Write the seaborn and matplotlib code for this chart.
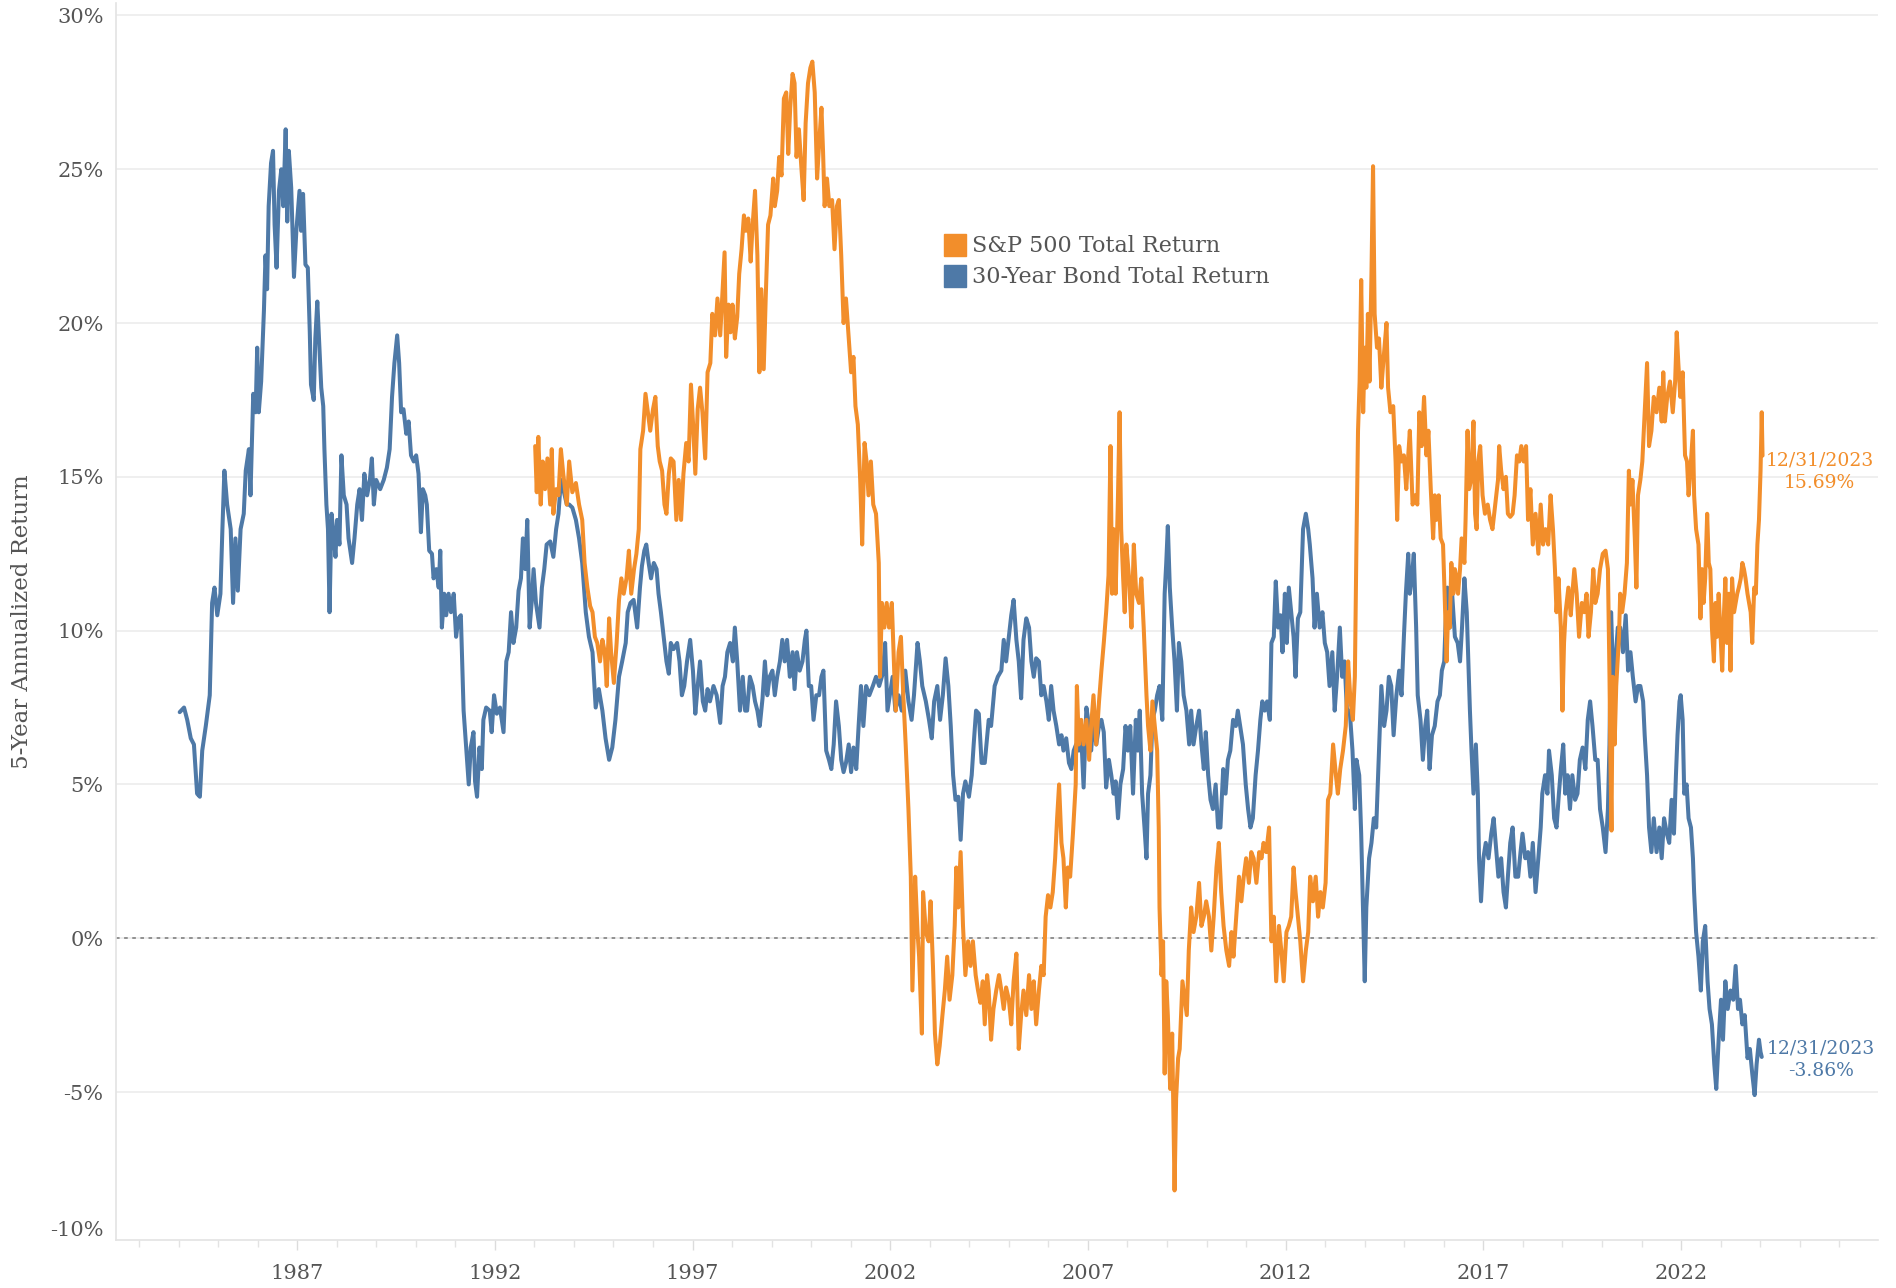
import numpy as np
import pandas as pd
import matplotlib
matplotlib.use("Agg")
import matplotlib.pyplot as plt
import seaborn as sns
from matplotlib.lines import Line2D
from matplotlib.transforms import blended_transform_factory

# 5-year annualized total return (%), x in decimal years
bond_year = [
    1984.03, 1984.14, 1984.22, 1984.31, 1984.39, 1984.47, 1984.54, 1984.60, 1984.69, 1984.79,
    1984.85, 1984.91, 1984.98, 1985.06, 1985.11, 1985.16, 1985.23, 1985.32, 1985.38, 1985.44,
    1985.50, 1985.57, 1985.65, 1985.70, 1985.78, 1985.82, 1985.89, 1985.95, 1985.99, 1986.03,
    1986.09, 1986.16, 1986.20, 1986.24, 1986.28, 1986.34, 1986.39, 1986.43, 1986.48, 1986.54,
    1986.60, 1986.65, 1986.71, 1986.75, 1986.79, 1986.85, 1986.92, 1986.98, 1987.06, 1987.10,
    1987.15, 1987.21, 1987.27, 1987.32, 1987.35, 1987.42, 1987.46, 1987.51, 1987.55, 1987.61,
    1987.66, 1987.69, 1987.74, 1987.78, 1987.82, 1987.87, 1987.93, 1987.97, 1988.01, 1988.07,
    1988.12, 1988.18, 1988.25, 1988.30, 1988.39, 1988.45, 1988.52, 1988.58, 1988.64, 1988.70,
    1988.77, 1988.84, 1988.89, 1988.94, 1989.00, 1989.10, 1989.19, 1989.27, 1989.34, 1989.40,
    1989.46, 1989.53, 1989.58, 1989.63, 1989.69, 1989.76, 1989.82, 1989.88, 1989.95, 1990.01,
    1990.07, 1990.13, 1990.18, 1990.24, 1990.28, 1990.34, 1990.41, 1990.45, 1990.52, 1990.58,
    1990.62, 1990.66, 1990.72, 1990.77, 1990.83, 1990.89, 1990.96, 1991.02, 1991.08, 1991.14,
    1991.21, 1991.28, 1991.34, 1991.39, 1991.46, 1991.50, 1991.55, 1991.61, 1991.67, 1991.71,
    1991.78, 1991.87, 1991.92, 1991.98, 1992.05, 1992.13, 1992.22, 1992.29, 1992.35, 1992.41,
    1992.47, 1992.54, 1992.60, 1992.66, 1992.71, 1992.77, 1992.82, 1992.88, 1992.93, 1992.98,
    1993.04, 1993.13, 1993.19, 1993.25, 1993.31, 1993.40, 1993.48, 1993.55, 1993.61, 1993.67,
    1993.73, 1993.82, 1993.88, 1993.96, 1994.05, 1994.13, 1994.21, 1994.30, 1994.38, 1994.47,
    1994.55, 1994.63, 1994.72, 1994.80, 1994.89, 1994.97, 1995.05, 1995.14, 1995.22, 1995.31,
    1995.36, 1995.43, 1995.51, 1995.60, 1995.67, 1995.72, 1995.78, 1995.83, 1995.89, 1995.95,
    1996.02, 1996.09, 1996.14, 1996.20, 1996.27, 1996.34, 1996.40, 1996.45, 1996.52, 1996.61,
    1996.67, 1996.73, 1996.79, 1996.86, 1996.94, 1997.01, 1997.07, 1997.13, 1997.19, 1997.26,
    1997.32, 1997.38, 1997.44, 1997.53, 1997.61, 1997.70, 1997.76, 1997.82, 1997.88, 1997.95,
    1998.02, 1998.07, 1998.13, 1998.20, 1998.27, 1998.33, 1998.38, 1998.45, 1998.52, 1998.58,
    1998.64, 1998.70, 1998.77, 1998.83, 1998.89, 1998.95, 1999.02, 1999.08, 1999.14, 1999.21,
    1999.27, 1999.33, 1999.39, 1999.46, 1999.53, 1999.58, 1999.64, 1999.71, 1999.78, 1999.84,
    1999.88, 1999.94, 2000.00, 2000.06, 2000.13, 2000.20, 2000.26, 2000.31, 2000.38, 2000.45,
    2000.51, 2000.57, 2000.63, 2000.70, 2000.76, 2000.82, 2000.88, 2000.95, 2001.01, 2001.07,
    2001.14, 2001.20, 2001.26, 2001.32, 2001.39, 2001.47, 2001.56, 2001.64, 2001.72, 2001.81,
    2001.87, 2001.93, 2001.99, 2002.06, 2002.13, 2002.21, 2002.29, 2002.38, 2002.46, 2002.54,
    2002.60, 2002.69, 2002.75, 2002.81, 2002.90, 2002.98, 2003.05, 2003.11, 2003.19, 2003.26,
    2003.33, 2003.40, 2003.47, 2003.53, 2003.59, 2003.65, 2003.72, 2003.78, 2003.84, 2003.90,
    2003.99, 2004.06, 2004.11, 2004.17, 2004.24, 2004.31, 2004.39, 2004.49, 2004.55, 2004.64,
    2004.72, 2004.81, 2004.87, 2004.93, 2005.00, 2005.06, 2005.12, 2005.19, 2005.25, 2005.31,
    2005.37, 2005.44, 2005.51, 2005.57, 2005.63, 2005.69, 2005.76, 2005.82, 2005.88, 2005.95,
    2006.01, 2006.07, 2006.13, 2006.20, 2006.27, 2006.33, 2006.38, 2006.45, 2006.52, 2006.58,
    2006.64, 2006.70, 2006.77, 2006.83, 2006.89, 2006.96, 2007.03, 2007.08, 2007.14, 2007.21,
    2007.28, 2007.34, 2007.40, 2007.46, 2007.53, 2007.59, 2007.65, 2007.70, 2007.76, 2007.82,
    2007.89, 2007.95, 2008.01, 2008.07, 2008.14, 2008.21, 2008.26, 2008.31, 2008.37, 2008.43,
    2008.48, 2008.52, 2008.58, 2008.63, 2008.69, 2008.75, 2008.81, 2008.88, 2008.94, 2008.98,
    2009.02, 2009.07, 2009.13, 2009.19, 2009.25, 2009.30, 2009.36, 2009.42, 2009.49, 2009.56,
    2009.61, 2009.67, 2009.74, 2009.81, 2009.87, 2009.93, 2009.98, 2010.04, 2010.10, 2010.16,
    2010.23, 2010.29, 2010.35, 2010.42, 2010.48, 2010.54, 2010.60, 2010.67, 2010.74, 2010.79,
    2010.85, 2010.92, 2010.99, 2011.05, 2011.11, 2011.17, 2011.24, 2011.30, 2011.36, 2011.41,
    2011.47, 2011.53, 2011.60, 2011.64, 2011.70, 2011.75, 2011.81, 2011.87, 2011.92, 2011.98,
    2012.03, 2012.08, 2012.14, 2012.20, 2012.25, 2012.31, 2012.37, 2012.44, 2012.51, 2012.57,
    2012.61, 2012.68, 2012.73, 2012.79, 2012.86, 2012.93, 2012.99, 2013.05, 2013.11, 2013.18,
    2013.24, 2013.30, 2013.37, 2013.43, 2013.49, 2013.55, 2013.62, 2013.69, 2013.75, 2013.79,
    2013.86, 2013.91, 2013.96, 2014.00, 2014.04, 2014.11, 2014.17, 2014.23, 2014.29, 2014.36,
    2014.42, 2014.49, 2014.55, 2014.61, 2014.67, 2014.73, 2014.80, 2014.87, 2014.93, 2014.99,
    2015.04, 2015.10, 2015.14, 2015.19, 2015.24, 2015.30, 2015.34, 2015.41, 2015.47, 2015.53,
    2015.58, 2015.64, 2015.70, 2015.77, 2015.84, 2015.90, 2015.95, 2016.01, 2016.04, 2016.09,
    2016.15, 2016.21, 2016.28, 2016.35, 2016.41, 2016.46, 2016.52, 2016.58, 2016.62, 2016.66,
    2016.70, 2016.75, 2016.81, 2016.86, 2016.89, 2016.94, 2017.00, 2017.06, 2017.13, 2017.20,
    2017.26, 2017.31, 2017.38, 2017.45, 2017.51, 2017.57, 2017.62, 2017.68, 2017.74, 2017.81,
    2017.88, 2017.94, 2017.99, 2018.06, 2018.13, 2018.19, 2018.25, 2018.32, 2018.39, 2018.45,
    2018.49, 2018.56, 2018.62, 2018.66, 2018.73, 2018.79, 2018.85, 2018.91, 2018.96, 2019.02,
    2019.07, 2019.13, 2019.19, 2019.25, 2019.32, 2019.38, 2019.44, 2019.51, 2019.58, 2019.64,
    2019.70, 2019.76, 2019.83, 2019.89, 2019.95, 2020.02, 2020.09, 2020.15, 2020.19, 2020.23,
    2020.29, 2020.34, 2020.40, 2020.46, 2020.53, 2020.60, 2020.66, 2020.72, 2020.78, 2020.85,
    2020.91, 2020.97, 2021.04, 2021.08, 2021.14, 2021.19, 2021.25, 2021.31, 2021.38, 2021.45,
    2021.51, 2021.57, 2021.64, 2021.70, 2021.76, 2021.82, 2021.87, 2021.91, 2021.96, 2021.99,
    2022.04, 2022.08, 2022.14, 2022.19, 2022.25, 2022.30, 2022.33, 2022.38, 2022.44, 2022.50,
    2022.55, 2022.61, 2022.67, 2022.72, 2022.78, 2022.84, 2022.89, 2022.95, 2023.01, 2023.06,
    2023.12, 2023.18, 2023.25, 2023.32, 2023.38, 2023.44, 2023.49, 2023.55, 2023.61, 2023.68,
    2023.74, 2023.80, 2023.86, 2023.91, 2023.97, 2024.01, 2024.04,
]
bond_ret = [
    7.35, 7.5, 7.1, 6.5, 6.3, 4.7, 4.6, 6.1, 6.9, 7.9,
    10.9, 11.4, 10.5, 11.2, 13.3, 15.2, 14.1, 13.3, 10.9, 13.0,
    11.3, 13.3, 13.8, 15.2, 15.9, 14.4, 17.7, 17.1, 19.2, 17.1,
    18.1, 20.4, 22.2, 21.1, 23.8, 25.2, 25.6, 23.2, 21.8, 24.3,
    25.0, 23.8, 26.3, 23.3, 25.6, 24.4, 21.5, 23.0, 24.3, 23.0,
    24.2, 21.9, 21.8, 19.7, 18.0, 17.5, 19.5, 20.7, 19.6, 17.9,
    17.3, 15.9, 14.1, 13.3, 10.6, 13.8, 13.0, 12.4, 13.6, 12.8,
    15.7, 14.4, 14.1, 13.0, 12.2, 13.0, 14.1, 14.6, 13.6, 15.1,
    14.4, 14.9, 15.6, 14.1, 14.9, 14.6, 14.9, 15.3, 15.9, 17.6,
    18.7, 19.6, 18.7, 17.1, 17.2, 16.4, 16.8, 15.7, 15.5, 15.7,
    15.1, 13.2, 14.6, 14.4, 14.1, 12.6, 12.5, 11.7, 12.0, 11.4,
    12.6, 10.1, 11.2, 10.5, 11.2, 10.6, 11.2, 9.8, 10.4, 10.5,
    7.4, 6.1, 5.0, 6.2, 6.7, 5.1, 4.6, 6.2, 5.5, 7.1,
    7.5, 7.4, 6.7, 7.9, 7.3, 7.5, 6.7, 9.0, 9.3, 10.6,
    9.6, 10.1, 11.3, 11.7, 13.0, 12.0, 13.6, 10.1, 10.9, 12.0,
    10.9, 10.1, 11.4, 12.0, 12.8, 12.9, 12.4, 13.3, 13.8, 14.9,
    14.6, 14.1, 14.1, 14.0, 13.6, 13.0, 12.2, 10.6, 9.8, 9.3,
    7.5, 8.1, 7.4, 6.5, 5.8, 6.2, 7.1, 8.5, 9.0, 9.6,
    10.6, 10.9, 11.0, 10.1, 11.4, 12.1, 12.6, 12.8, 12.2, 11.7,
    12.2, 12.0, 11.2, 10.6, 9.8, 9.0, 8.6, 9.6, 9.4, 9.6,
    9.0, 7.9, 8.2, 9.0, 9.7, 8.7, 7.3, 8.2, 9.0, 7.7,
    7.4, 8.1, 7.7, 8.2, 7.9, 7.0, 8.2, 8.5, 9.3, 9.6,
    9.0, 10.1, 9.0, 7.4, 8.5, 7.4, 7.4, 8.5, 8.2, 7.7,
    7.4, 6.9, 7.8, 9.0, 7.9, 8.5, 8.7, 7.9, 8.5, 9.0,
    9.7, 9.0, 9.7, 8.5, 9.3, 8.1, 9.3, 8.7, 9.0, 9.7,
    10.0, 8.2, 8.2, 7.1, 7.9, 7.9, 8.5, 8.7, 6.1, 5.8,
    5.5, 6.3, 7.7, 6.9, 5.8, 5.4, 5.7, 6.3, 5.4, 6.2,
    5.5, 6.9, 8.2, 6.9, 8.2, 7.9, 8.2, 8.5, 8.2, 8.6,
    9.6, 7.4, 7.9, 8.5, 7.4, 7.9, 7.4, 8.7, 7.7, 7.1,
    7.9, 9.6, 9.0, 8.2, 7.7, 7.1, 6.5, 7.7, 8.2, 7.1,
    7.9, 9.1, 8.2, 6.9, 5.3, 4.5, 4.6, 3.2, 4.7, 5.1,
    4.6, 5.3, 6.3, 7.4, 7.3, 5.7, 5.7, 7.1, 6.9, 8.2,
    8.5, 8.7, 9.7, 9.0, 9.8, 10.5, 11.0, 9.7, 9.0, 7.8,
    9.7, 10.4, 10.1, 9.0, 8.5, 9.1, 9.0, 7.9, 8.2, 7.7,
    7.1, 8.2, 7.4, 6.9, 6.3, 6.6, 6.1, 6.5, 5.7, 5.5,
    6.1, 6.3, 6.1, 6.6, 4.9, 7.5, 6.9, 6.1, 7.1, 6.3,
    6.9, 7.1, 6.7, 4.9, 5.8, 5.3, 4.7, 5.1, 3.9, 5.0,
    5.5, 6.9, 6.1, 6.9, 4.7, 7.1, 6.1, 7.4, 4.7, 3.6,
    2.6, 4.7, 5.3, 7.1, 7.4, 7.9, 8.2, 7.1, 11.2, 12.2,
    13.4, 11.4, 10.1, 9.0, 7.4, 9.6, 9.0, 7.9, 7.4, 6.3,
    7.4, 6.3, 6.9, 7.4, 6.3, 5.5, 6.7, 5.3, 4.5, 4.2,
    5.0, 3.6, 3.6, 5.5, 4.7, 5.8, 6.1, 7.1, 6.9, 7.4,
    6.9, 6.3, 5.0, 4.2, 3.6, 3.9, 5.3, 6.1, 7.1, 7.7,
    7.4, 7.7, 7.1, 9.6, 9.8, 11.6, 10.1, 10.5, 9.3, 11.2,
    9.6, 11.4, 10.6, 9.8, 8.5, 10.4, 10.6, 13.3, 13.8, 13.3,
    12.8, 11.7, 10.1, 11.2, 10.1, 10.6, 9.6, 9.3, 8.2, 9.3,
    7.4, 8.5, 10.1, 8.5, 9.0, 7.4, 7.4, 6.1, 4.2, 5.8,
    5.3, 3.4, 0.7, -1.4, 1.0, 2.6, 3.1, 3.9, 3.6, 6.1,
    8.2, 6.9, 7.4, 8.5, 8.2, 6.6, 7.9, 8.7, 7.9, 9.8,
    11.2, 12.5, 11.2, 11.7, 12.5, 10.1, 7.9, 7.1, 5.8, 6.9,
    7.4, 5.5, 6.6, 6.9, 7.7, 7.9, 8.7, 9.0, 10.1, 11.4,
    10.1, 11.2, 9.8, 9.6, 9.0, 10.1, 11.7, 10.6, 9.0, 7.4,
    6.1, 4.7, 6.3, 4.7, 2.6, 1.2, 2.6, 3.1, 2.6, 3.4,
    3.9, 3.1, 2.0, 2.6, 1.5, 1.0, 2.0, 3.1, 3.6, 2.0,
    2.0, 2.8, 3.4, 2.6, 2.8, 2.0, 3.1, 1.5, 2.6, 3.6,
    4.7, 5.3, 4.7, 6.1, 5.3, 3.9, 3.6, 4.7, 5.5, 6.3,
    4.7, 5.3, 4.2, 5.3, 4.5, 4.7, 5.8, 6.2, 5.5, 7.1,
    7.7, 6.9, 5.8, 5.8, 4.2, 3.6, 2.8, 4.2, 6.3, 10.6,
    8.2, 9.0, 10.1, 10.1, 9.3, 10.5, 8.7, 9.3, 8.5, 7.7,
    8.2, 8.2, 7.7, 6.6, 5.3, 3.6, 2.8, 3.9, 2.8, 3.6,
    2.6, 3.9, 3.4, 3.1, 4.5, 3.4, 5.3, 6.6, 7.7, 7.9,
    7.1, 4.7, 5.0, 3.9, 3.6, 2.6, 1.5, 0.2, -0.6, -1.7,
    -0.1, 0.4, -1.4, -2.3, -2.8, -4.1, -4.9, -3.3, -2.0, -3.3,
    -1.4, -2.3, -1.7, -2.0, -0.9, -2.3, -2.0, -2.8, -2.5, -3.9,
    -3.6, -4.4, -5.1, -4.1, -3.3, -3.7, -3.86,
]

spx_year = [
    1993.02, 1993.06, 1993.10, 1993.16, 1993.21, 1993.27, 1993.33, 1993.40, 1993.44, 1993.48,
    1993.55, 1993.61, 1993.67, 1993.73, 1993.82, 1993.88, 1993.96, 1994.05, 1994.13, 1994.21,
    1994.27, 1994.34, 1994.41, 1994.47, 1994.53, 1994.59, 1994.66, 1994.72, 1994.78, 1994.83,
    1994.89, 1994.94, 1995.01, 1995.08, 1995.14, 1995.20, 1995.26, 1995.33, 1995.39, 1995.45,
    1995.52, 1995.58, 1995.64, 1995.68, 1995.75, 1995.81, 1995.87, 1995.93, 1996.00, 1996.06,
    1996.12, 1996.17, 1996.23, 1996.29, 1996.34, 1996.40, 1996.45, 1996.52, 1996.59, 1996.65,
    1996.71, 1996.77, 1996.84, 1996.90, 1996.96, 1997.01, 1997.07, 1997.13, 1997.19, 1997.25,
    1997.32, 1997.38, 1997.45, 1997.50, 1997.57, 1997.63, 1997.70, 1997.76, 1997.81, 1997.85,
    1997.91, 1997.96, 1998.01, 1998.07, 1998.13, 1998.18, 1998.24, 1998.30, 1998.35, 1998.41,
    1998.47, 1998.52, 1998.58, 1998.64, 1998.69, 1998.74, 1998.80, 1998.85, 1998.91, 1998.97,
    1999.04, 1999.08, 1999.14, 1999.19, 1999.25, 1999.31, 1999.37, 1999.42, 1999.47, 1999.53,
    1999.58, 1999.63, 1999.69, 1999.75, 1999.81, 1999.86, 1999.92, 1999.98, 2000.03, 2000.09,
    2000.15, 2000.20, 2000.26, 2000.30, 2000.34, 2000.40, 2000.46, 2000.53, 2000.59, 2000.65,
    2000.70, 2000.76, 2000.82, 2000.88, 2000.95, 2001.01, 2001.07, 2001.12, 2001.18, 2001.24,
    2001.29, 2001.35, 2001.40, 2001.45, 2001.51, 2001.57, 2001.64, 2001.71, 2001.74, 2001.79,
    2001.85, 2001.91, 2001.97, 2002.04, 2002.10, 2002.14, 2002.21, 2002.27, 2002.33, 2002.39,
    2002.46, 2002.52, 2002.56, 2002.63, 2002.69, 2002.73, 2002.80, 2002.83, 2002.90, 2002.97,
    2003.02, 2003.08, 2003.13, 2003.19, 2003.25, 2003.32, 2003.38, 2003.44, 2003.50, 2003.57,
    2003.63, 2003.67, 2003.72, 2003.78, 2003.84, 2003.90, 2003.97, 2004.03, 2004.09, 2004.16,
    2004.22, 2004.28, 2004.34, 2004.39, 2004.45, 2004.49, 2004.55, 2004.61, 2004.68, 2004.75,
    2004.81, 2004.87, 2004.93, 2005.00, 2005.06, 2005.12, 2005.19, 2005.25, 2005.31, 2005.37,
    2005.44, 2005.51, 2005.57, 2005.63, 2005.69, 2005.76, 2005.82, 2005.88, 2005.93, 2005.99,
    2006.05, 2006.11, 2006.17, 2006.22, 2006.27, 2006.33, 2006.38, 2006.44, 2006.49, 2006.55,
    2006.62, 2006.69, 2006.72, 2006.77, 2006.83, 2006.89, 2006.96, 2007.03, 2007.08, 2007.14,
    2007.21, 2007.28, 2007.34, 2007.40, 2007.46, 2007.52, 2007.57, 2007.61, 2007.65, 2007.70,
    2007.76, 2007.80, 2007.84, 2007.89, 2007.93, 2007.97, 2008.04, 2008.10, 2008.16, 2008.22,
    2008.29, 2008.35, 2008.41, 2008.48, 2008.52, 2008.58, 2008.63, 2008.69, 2008.75, 2008.79,
    2008.81, 2008.86, 2008.90, 2008.94, 2008.98, 2009.02, 2009.08, 2009.13, 2009.19, 2009.23,
    2009.28, 2009.32, 2009.39, 2009.45, 2009.50, 2009.55, 2009.61, 2009.67, 2009.74, 2009.81,
    2009.87, 2009.93, 2009.99, 2010.06, 2010.12, 2010.18, 2010.25, 2010.31, 2010.37, 2010.43,
    2010.50, 2010.57, 2010.63, 2010.68, 2010.75, 2010.82, 2010.88, 2010.94, 2011.00, 2011.07,
    2011.13, 2011.19, 2011.26, 2011.33, 2011.39, 2011.44, 2011.51, 2011.58, 2011.64, 2011.70,
    2011.76, 2011.83, 2011.89, 2011.95, 2012.02, 2012.08, 2012.14, 2012.20, 2012.25, 2012.31,
    2012.37, 2012.44, 2012.51, 2012.57, 2012.62, 2012.69, 2012.76, 2012.82, 2012.88, 2012.94,
    2013.01, 2013.07, 2013.13, 2013.20, 2013.27, 2013.32, 2013.38, 2013.45, 2013.52, 2013.58,
    2013.64, 2013.70, 2013.75, 2013.79, 2013.83, 2013.87, 2013.91, 2013.96, 2014.00, 2014.04,
    2014.08, 2014.12, 2014.17, 2014.21, 2014.25, 2014.31, 2014.36, 2014.42, 2014.48, 2014.55,
    2014.59, 2014.65, 2014.72, 2014.78, 2014.82, 2014.87, 2014.93, 2014.99, 2015.05, 2015.09,
    2015.14, 2015.21, 2015.27, 2015.33, 2015.38, 2015.44, 2015.50, 2015.56, 2015.61, 2015.67,
    2015.73, 2015.77, 2015.81, 2015.87, 2015.92, 2015.98, 2016.02, 2016.07, 2016.11, 2016.15,
    2016.19, 2016.24, 2016.28, 2016.32, 2016.36, 2016.41, 2016.45, 2016.52, 2016.55, 2016.60,
    2016.64, 2016.69, 2016.75, 2016.79, 2016.83, 2016.87, 2016.92, 2016.98, 2017.04, 2017.11,
    2017.17, 2017.23, 2017.30, 2017.37, 2017.40, 2017.45, 2017.51, 2017.57, 2017.62, 2017.68,
    2017.74, 2017.79, 2017.85, 2017.91, 2017.96, 2018.02, 2018.08, 2018.13, 2018.19, 2018.25,
    2018.32, 2018.39, 2018.45, 2018.51, 2018.57, 2018.64, 2018.70, 2018.76, 2018.81, 2018.85,
    2018.90, 2018.96, 2019.00, 2019.04, 2019.08, 2019.15, 2019.21, 2019.25, 2019.30, 2019.36,
    2019.42, 2019.49, 2019.55, 2019.61, 2019.66, 2019.72, 2019.78, 2019.83, 2019.89, 2019.95,
    2020.02, 2020.09, 2020.15, 2020.19, 2020.21, 2020.24, 2020.27, 2020.32, 2020.36, 2020.43,
    2020.46, 2020.51, 2020.57, 2020.63, 2020.68, 2020.72, 2020.77, 2020.83, 2020.87, 2020.91,
    2020.97, 2021.02, 2021.08, 2021.14, 2021.19, 2021.25, 2021.31, 2021.38, 2021.45, 2021.51,
    2021.55, 2021.59, 2021.65, 2021.72, 2021.79, 2021.85, 2021.89, 2021.93, 2021.98, 2022.04,
    2022.10, 2022.15, 2022.19, 2022.25, 2022.30, 2022.33, 2022.38, 2022.44, 2022.49, 2022.53,
    2022.57, 2022.61, 2022.66, 2022.70, 2022.74, 2022.78, 2022.83, 2022.87, 2022.91, 2022.95,
    2022.99, 2023.04, 2023.08, 2023.12, 2023.16, 2023.21, 2023.25, 2023.29, 2023.34, 2023.38,
    2023.42, 2023.46, 2023.51, 2023.55, 2023.59, 2023.63, 2023.68, 2023.72, 2023.76, 2023.80,
    2023.85, 2023.89, 2023.93, 2023.97, 2024.01, 2024.04, 2024.06,
]
spx_ret = [
    16.0, 14.5, 16.3, 14.1, 15.5, 14.6, 15.6, 14.1, 15.9, 13.8,
    14.6, 14.4, 15.9, 15.1, 14.1, 15.5, 14.5, 14.8, 14.1, 13.6,
    12.2, 11.4, 10.8, 10.6, 9.8, 9.6, 9.0, 9.7, 9.3, 8.2,
    10.4, 9.3, 8.3, 9.6, 11.0, 11.7, 11.2, 11.7, 12.6, 11.2,
    12.0, 12.5, 13.3, 15.9, 16.5, 17.7, 17.1, 16.5, 17.2, 17.6,
    16.0, 15.5, 15.2, 14.1, 13.8, 15.1, 15.6, 15.5, 13.6, 14.9,
    13.6, 15.1, 16.1, 15.5, 18.0, 16.8, 15.1, 17.2, 17.9, 17.1,
    15.6, 18.4, 18.7, 20.3, 19.6, 20.8, 19.6, 21.1, 22.3, 18.9,
    20.6, 19.7, 20.6, 19.5, 20.2, 21.6, 22.4, 23.5, 23.0, 23.4,
    22.0, 23.2, 24.3, 22.2, 18.4, 21.1, 18.5, 20.8, 23.2, 23.5,
    24.7, 23.8, 24.3, 25.4, 24.8, 27.3, 27.5, 25.5, 27.0, 28.1,
    27.8, 25.4, 26.3, 25.1, 24.0, 26.5, 27.8, 28.3, 28.5, 27.5,
    24.7, 25.8, 27.0, 25.6, 23.8, 24.7, 23.8, 24.0, 22.4, 23.8,
    24.0, 22.2, 20.0, 20.8, 19.5, 18.4, 18.9, 17.3, 16.7, 14.9,
    12.8, 16.1, 15.5, 14.4, 15.5, 14.1, 13.8, 12.2, 8.5, 10.9,
    10.1, 10.9, 10.1, 10.9, 8.7, 7.4, 9.3, 9.8, 7.9, 6.3,
    4.2, 2.0, -1.7, 2.0, 0.2, -0.6, -3.1, 1.5, 0.2, -0.1,
    1.2, -0.9, -3.1, -4.1, -3.5, -2.5, -1.7, -0.6, -2.0, -1.2,
    0.4, 2.3, 1.0, 2.8, 0.4, -1.2, -0.1, -0.9, -0.1, -1.2,
    -1.7, -2.1, -1.4, -2.8, -1.2, -1.7, -3.3, -2.3, -1.7, -1.2,
    -1.7, -2.3, -1.6, -2.0, -2.8, -1.4, -0.5, -3.6, -2.5, -1.7,
    -2.5, -1.2, -2.3, -1.4, -2.8, -1.7, -0.9, -1.2, 0.7, 1.4,
    1.0, 1.5, 2.6, 3.9, 5.0, 3.1, 2.6, 1.0, 2.3, 2.0,
    3.4, 5.0, 8.2, 6.3, 7.1, 6.3, 7.1, 5.8, 6.9, 7.9,
    6.3, 7.7, 8.7, 9.6, 10.6, 11.8, 16.0, 11.2, 13.3, 11.2,
    14.4, 17.1, 13.3, 11.7, 10.6, 12.8, 11.7, 10.1, 12.8, 11.2,
    10.9, 11.7, 10.1, 7.9, 6.9, 6.1, 7.7, 6.9, 6.1, 3.6,
    1.0, -1.2, -0.1, -4.4, -1.4, -2.5, -4.9, -3.1, -8.2, -5.2,
    -3.9, -3.6, -1.4, -2.0, -2.5, -0.4, 1.0, 0.2, 0.7, 1.8,
    0.4, 0.7, 1.2, 0.7, -0.4, 0.7, 2.3, 3.1, 1.5, 0.4,
    -0.4, -0.9, 0.2, -0.6, 0.7, 2.0, 1.2, 2.0, 2.6, 1.8,
    2.8, 2.6, 1.8, 2.8, 2.6, 3.1, 2.8, 3.6, -0.1, 0.7,
    -1.4, 0.4, -0.4, -1.4, 0.2, 0.4, 0.7, 2.3, 1.5, 0.7,
    -0.1, -1.4, -0.4, 0.2, 2.0, 1.2, 2.0, 0.7, 1.5, 1.0,
    1.8, 4.5, 4.7, 6.3, 5.3, 4.7, 5.5, 6.1, 6.9, 9.0,
    7.7, 7.1, 8.5, 12.8, 16.5, 18.1, 21.4, 17.1, 19.2, 17.9,
    20.3, 18.1, 21.6, 25.1, 20.3, 19.2, 19.5, 17.9, 18.9, 20.0,
    17.9, 17.1, 17.3, 15.5, 13.6, 16.0, 15.5, 15.7, 14.6, 15.5,
    16.5, 14.1, 14.4, 14.1, 17.1, 16.0, 17.6, 15.7, 16.5, 14.6,
    13.0, 14.4, 13.6, 14.4, 13.0, 12.8, 11.2, 9.0, 10.6, 10.1,
    12.2, 11.2, 12.0, 11.7, 11.2, 12.0, 13.0, 12.2, 13.6, 16.5,
    14.6, 14.9, 16.8, 13.8, 13.3, 15.5, 16.0, 14.4, 13.8, 14.1,
    13.6, 13.3, 14.1, 14.9, 16.0, 15.2, 14.6, 15.0, 13.8, 13.7,
    13.8, 14.4, 15.7, 15.5, 16.0, 15.5, 16.0, 13.6, 14.6, 12.8,
    13.8, 12.5, 14.1, 12.8, 13.3, 12.8, 14.4, 13.3, 12.0, 10.6,
    11.7, 10.1, 7.4, 9.6, 10.6, 11.4, 10.5, 11.2, 12.0, 11.2,
    9.8, 10.9, 10.6, 11.2, 9.8, 10.6, 12.0, 10.9, 11.2, 12.0,
    12.5, 12.6, 12.0, 8.5, 6.1, 3.5, 8.5, 6.3, 8.2, 9.8,
    11.2, 10.6, 11.2, 12.2, 15.2, 14.1, 14.9, 13.0, 11.4, 14.4,
    14.9, 15.5, 17.1, 18.7, 16.0, 16.5, 17.6, 17.1, 17.9, 16.8,
    18.4, 16.8, 17.6, 18.1, 17.1, 18.1, 19.7, 18.7, 17.6, 18.4,
    15.7, 15.5, 14.4, 15.5, 16.5, 14.4, 13.3, 12.8, 10.4, 12.0,
    10.9, 11.7, 13.8, 12.2, 12.0, 10.1, 9.0, 10.9, 9.8, 11.2,
    10.1, 8.7, 10.4, 11.7, 9.6, 11.2, 8.7, 11.7, 10.6, 10.9,
    11.2, 11.4, 11.7, 12.2, 12.0, 11.7, 11.2, 10.9, 10.6, 9.6,
    11.4, 11.2, 12.8, 13.6, 15.2, 17.1, 15.69,
]

spx_name = "S&P 500 Total Return"
bond_name = "30-Year Bond Total Return"
colors = {spx_name: "#F28E2B", bond_name: "#4E79A7"}
end_label = "12/31/2023"

df = pd.concat([
    pd.DataFrame({"year": bond_year, "ret": bond_ret, "series": bond_name}),
    pd.DataFrame({"year": spx_year, "ret": spx_ret, "series": spx_name}),
], ignore_index=True)

sns.set_theme(style="white")
plt.rcParams["font.family"] = ["DejaVu Serif"]
txt = "#555555"

fig, ax = plt.subplots(figsize=(18.96, 12.88), dpi=100)
fig.subplots_adjust(left=0.0612, right=0.9905, top=0.998, bottom=0.0373)

sns.lineplot(data=df, x="year", y="ret", hue="series",
             hue_order=[bond_name, spx_name], palette=colors,
             estimator=None, sort=False, linewidth=2.9, legend=False, ax=ax)

ax.axhline(0, color="#8a8a8a", lw=1.3, ls=(0, (2, 2.5)), zorder=1.5)

ax.set_xlim(1982.42, 2026.98)
ax.set_ylim(-9.81, 30.42)
ax.set_yticks(range(-5, 31, 5))
ax.set_yticklabels([f"{v}%" for v in range(-5, 31, 5)])
ax.set_xticks(range(1987, 2023, 5))
ax.set_xticks(range(1983, 2027), minor=True)
ax.set_xticklabels([str(y) for y in range(1987, 2023, 5)])
ax.yaxis.grid(True, color="#eeeeee", lw=1.3)
ax.xaxis.grid(False)
ax.set_axisbelow(True)

for side in ["top", "right"]:
    ax.spines[side].set_visible(False)
for side in ["left", "bottom"]:
    ax.spines[side].set_color("#e3e3e3")
    ax.spines[side].set_linewidth(1.2)

ax.tick_params(axis="y", length=0, pad=9, labelsize=15, labelcolor=txt)
ax.tick_params(axis="x", which="major", direction="out", length=7, width=1,
               color="#dcdcdc", pad=10, labelsize=15, labelcolor=txt, bottom=True)
ax.tick_params(axis="x", which="minor", direction="out", length=5, width=1,
               color="#e3e3e3", bottom=True)

trans = blended_transform_factory(ax.transAxes, ax.transData)
ax.text(-0.007, -9.81, "-10%", transform=trans, ha="right", va="bottom",
        fontsize=15, color=txt)

ax.set_xlabel("")
ax.set_ylabel("5-Year Annualized Return", fontsize=16.5, color=txt)
ax.yaxis.set_label_coords(-0.047, 0.5)

handles = [Line2D([], [], marker="s", ls="none", markersize=16.5,
                  color=colors[n]) for n in [spx_name, bond_name]]
ax.legend(handles, [spx_name, bond_name], loc="upper left",
          bbox_to_anchor=(0.465, 0.819), frameon=False, fontsize=16,
          handletextpad=0.25, labelspacing=0.4, borderaxespad=0,
          handlelength=1.0, labelcolor=txt)

ax.annotate(f"{end_label}\n{spx_ret[-1]:.2f}%", xy=(spx_year[-1], spx_ret[-1]),
            xytext=(57, -16), textcoords="offset pixels", ha="center", va="center",
            fontsize=13.5, color=colors[spx_name], linespacing=1.3)
ax.annotate(f"{end_label}\n{bond_ret[-1]:.2f}%", xy=(bond_year[-1], bond_ret[-1]),
            xytext=(59, -3), textcoords="offset pixels", ha="center", va="center",
            fontsize=13.5, color=colors[bond_name], linespacing=1.3)

fig.savefig("out.png", dpi=100, facecolor="white")
